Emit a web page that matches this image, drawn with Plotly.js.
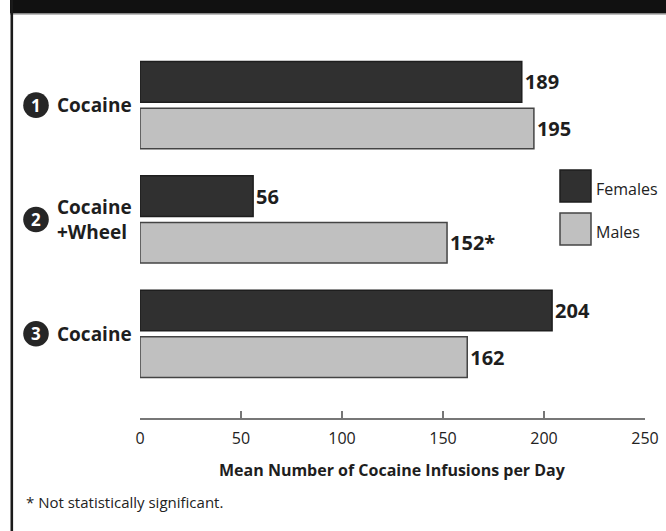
<!DOCTYPE html>
<html>
<head>
<meta charset="utf-8">
<script src="https://cdn.plot.ly/plotly-3.0.1.min.js"></script>
<style>
  html, body { margin: 0; padding: 0; background: #ffffff; }
  #chart { width: 666px; height: 531px; }
</style>
</head>
<body>
<div id="chart"></div>
<script>
// ---- data ----
const categories = ["Cocaine", "Cocaine<br>+Wheel", "Cocaine"];
const groupNumbers = ["1", "2", "3"];
const seriesNames = ["Females", "Males"];
const femaleValues = [189, 56, 204];
const maleValues = [195, 152, 162];
const femaleLabels = ["189", "56", "204"];
const maleLabels = ["195", "152*", "162"];
const xTickValues = [0, 50, 100, 150, 200, 250];
const xTitle = "Mean Number of Cocaine Infusions per Day";
const footnote = "* Not statistically significant.";

// ---- styling ----
const FONT = "'Open Sans', 'Noto Sans', 'DejaVu Sans', sans-serif";
const femaleColor = "#303030";
const maleColor = "#c0c0c0";
const W = 666, H = 531;
const M = { l: 140, r: 21, t: 48, b: 113 };
const plotW = W - M.l - M.r, plotH = H - M.t - M.b;
const px2paperX = px => (px - M.l) / plotW;
const px2paperY = py => (H - M.b - py) / plotH;

const yPos = categories.map((_, i) => i);

const traces = [
  {
    type: "bar", orientation: "h", name: seriesNames[0],
    x: femaleValues, y: yPos,
    marker: { color: femaleColor, line: { color: "#1e1e1e", width: 1.5 } },
    text: femaleLabels, textposition: "outside", cliponaxis: false, constraintext: "none",
    textfont: { family: FONT, size: 20, color: "#1e1e1e", weight: "bold" },
    hoverinfo: "skip"
  },
  {
    type: "bar", orientation: "h", name: seriesNames[1],
    x: maleValues, y: yPos,
    marker: { color: maleColor, line: { color: "#444444", width: 1.5 } },
    text: maleLabels, textposition: "outside", cliponaxis: false, constraintext: "none",
    textfont: { family: FONT, size: 20, color: "#1e1e1e", weight: "bold" },
    hoverinfo: "skip"
  }
];

const shapes = [];
const annotations = [];

// frame: top black band and left rule
shapes.push({ type: "rect", xref: "paper", yref: "paper", layer: "above",
  x0: px2paperX(10), x1: px2paperX(670), y0: px2paperY(13.5), y1: px2paperY(-2),
  fillcolor: "#111111", line: { width: 0 } });
shapes.push({ type: "line", xref: "paper", yref: "paper",
  x0: px2paperX(10), x1: px2paperX(670), y0: px2paperY(14.5), y1: px2paperY(14.5),
  line: { color: "#bbbbbb", width: 1 } });
shapes.push({ type: "line", xref: "paper", yref: "paper",
  x0: px2paperX(11.8), x1: px2paperX(11.8), y0: px2paperY(0), y1: px2paperY(535),
  line: { color: "#1a1a1a", width: 2.6 } });

// category labels with numbered circles
categories.forEach((cat, i) => {
  shapes.push({ type: "circle", xref: "paper", yref: "y",
    xsizemode: "pixel", ysizemode: "pixel",
    xanchor: px2paperX(36), yanchor: i,
    x0: -12.8, x1: 12.8, y0: -12.8, y1: 12.8,
    fillcolor: "#262626", line: { width: 0 } });
  annotations.push({ xref: "paper", yref: "y", x: px2paperX(36), y: i,
    text: groupNumbers[i], showarrow: false, xanchor: "center", yanchor: "middle",
    font: { family: FONT, size: 17, color: "#ffffff", weight: "bold" } });
  annotations.push({ xref: "paper", yref: "y", x: px2paperX(55), y: i,
    text: cat, showarrow: false, xanchor: "left", yanchor: "middle", align: "left",
    font: { family: FONT, size: 19, color: "#1e1e1e", weight: "bold" } });
});

// legend (drawn manually for large swatches)
const legendItems = [
  { name: seriesNames[0], color: femaleColor, border: "#1e1e1e", top: 170, bottom: 202 },
  { name: seriesNames[1], color: maleColor, border: "#444444", top: 213, bottom: 245 }
];
legendItems.forEach(it => {
  shapes.push({ type: "rect", xref: "paper", yref: "paper",
    x0: px2paperX(560), x1: px2paperX(591), y0: px2paperY(it.bottom), y1: px2paperY(it.top),
    fillcolor: it.color, line: { color: it.border, width: 1.5 } });
  annotations.push({ xref: "paper", yref: "paper", x: px2paperX(594),
    y: px2paperY((it.top + it.bottom) / 2 + 3),
    text: it.name, showarrow: false, xanchor: "left", yanchor: "middle",
    font: { family: FONT, size: 16, color: "#222222" } });
});

// axis title and footnote
annotations.push({ xref: "paper", yref: "paper", x: 0.5, y: px2paperY(470),
  text: xTitle, showarrow: false, xanchor: "center", yanchor: "middle",
  font: { family: FONT, size: 16, color: "#1e1e1e", weight: "bold" } });
annotations.push({ xref: "paper", yref: "paper", x: px2paperX(24), y: px2paperY(502),
  text: footnote, showarrow: false, xanchor: "left", yanchor: "middle",
  font: { family: FONT, size: 15, color: "#222222" } });

const layout = {
  width: W, height: H,
  margin: M,
  paper_bgcolor: "#ffffff", plot_bgcolor: "#ffffff",
  showlegend: false,
  barmode: "group", bargap: 0.184, bargroupgap: 0.129,
  font: { family: FONT, color: "#222222" },
  xaxis: {
    range: [0, 250], tickvals: xTickValues, ticktext: xTickValues.map(String),
    showgrid: false, zeroline: false,
    showline: true, linecolor: "#777777", linewidth: 1.5,
    ticks: "inside", ticklen: 7, tickwidth: 1.5, tickcolor: "#777777",
    ticklabelstandoff: 5,
    tickfont: { family: FONT, size: 16, color: "#222222" },
    fixedrange: true
  },
  yaxis: {
    range: [2.737, -0.5], showticklabels: false, showgrid: false, zeroline: false,
    showline: false, ticks: "", fixedrange: true
  },
  shapes: shapes,
  annotations: annotations
};

Plotly.newPlot("chart", traces, layout, { displayModeBar: false, staticPlot: true });
</script>
</body>
</html>
